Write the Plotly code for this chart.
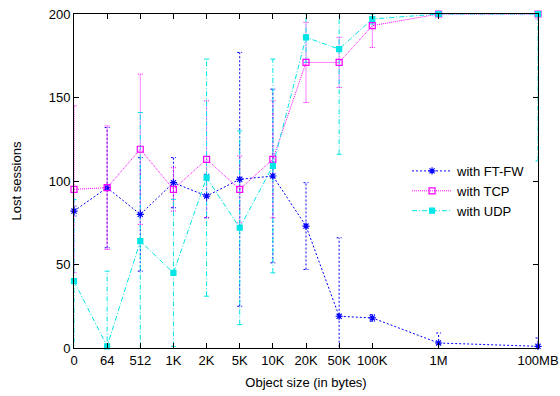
import plotly.graph_objects as go

# ---- data ----
size_labels = ["0", "64", "512", "1K", "2K", "5K", "10K", "20K", "50K", "100K", "1M", "100MB"]
size_pos = [0, 1, 2, 3, 4, 5, 6, 7, 8, 9, 11, 14]

ftfw_mean = [82, 96, 80, 99, 91, 101, 103, 73, 19, 18, 3, 1]
ftfw_err = [3, 36, 34, 15, 13, 76, 52, 26, 47, 2, 6, 5]

tcp_mean = [95, 96, 119, 95, 113, 95, 113, 171, 171, 193, 200, 200]
tcp_err = [50, 37, 45, 13, 35, 20, 35, 24, 15, 13, 0, 3]

udp_mean = [40, 1, 64, 45, 102, 72, 109, 186, 179, 197, 200, 200]
udp_err = [49, 45, 77, 44, 71, 58, 64, 15, 63, 3, 0, 88]

series = [
    ("with FT-FW", ftfw_mean, ftfw_err, "#0000ff", "2px,2px", "asterisk-open", 6),
    ("with TCP", tcp_mean, tcp_err, "#ff00ff", "1px,1px", "square-open", 6),
    ("with UDP", udp_mean, udp_err, "#00e5e5", "5px,2px,1px,2px", "square", 5),
]

fig = go.Figure()
cap = 0.075

for name, mean, err, color, dash, sym, msize in series:
    ex, ey = [], []
    for xp, m, e in zip(size_pos, mean, err):
        if e <= 0:
            continue
        lo, hi = m - e, m + e
        ex += [xp, xp, None, xp - cap, xp + cap, None, xp - cap, xp + cap, None]
        ey += [lo, hi, None, lo, lo, None, hi, hi, None]
    fig.add_trace(go.Scatter(
        x=ex, y=ey, mode="lines", showlegend=False, hoverinfo="skip",
        line=dict(color=color, width=1, dash=dash),
    ))

for name, mean, err, color, dash, sym, msize in series:
    fig.add_trace(go.Scatter(
        x=size_pos, y=mean, name=name, mode="lines+markers",
        line=dict(color=color, width=1, dash=dash),
        marker=dict(symbol=sym, size=msize, color=color,
                    line=dict(color=color, width=1.2)),
        cliponaxis=False,
    ))

font = dict(family="Liberation Sans, Arial, Helvetica, sans-serif", size=13, color="#000000")

fig.update_layout(
    width=560, height=396,
    margin=dict(l=74, r=22, t=14, b=48),
    paper_bgcolor="white", plot_bgcolor="white",
    font=font,
    showlegend=True,
    legend=dict(
        x=0.985, y=0.575, xanchor="right", yanchor="top",
        bgcolor="rgba(0,0,0,0)", borderwidth=0,
        font=dict(size=13), tracegroupgap=0, itemwidth=40,
    ),
    xaxis=dict(
        range=[0, 14], tickmode="array", tickvals=size_pos, ticktext=size_labels,
        showgrid=False, zeroline=False, showline=True, linecolor="black", linewidth=1,
        mirror="ticks", ticks="inside", ticklen=5, tickcolor="black",
        title=dict(text="Object size (in bytes)", standoff=11, font=dict(size=13)),
        tickfont=dict(size=13), automargin=False,
    ),
    yaxis=dict(
        range=[0, 200], tickvals=[0, 50, 100, 150, 200],
        showgrid=False, zeroline=False, showline=True, linecolor="black", linewidth=1,
        mirror="ticks", ticks="inside", ticklen=5, tickcolor="black",
        title=dict(text="Lost sessions", standoff=24, font=dict(size=13)),
        tickfont=dict(size=13), automargin=False,
    ),
)

fig.write_html(
    "out.html",
    config={"displayModeBar": False},
    post_script="document.body.style.margin='0';document.body.style.overflow='hidden';",
)
